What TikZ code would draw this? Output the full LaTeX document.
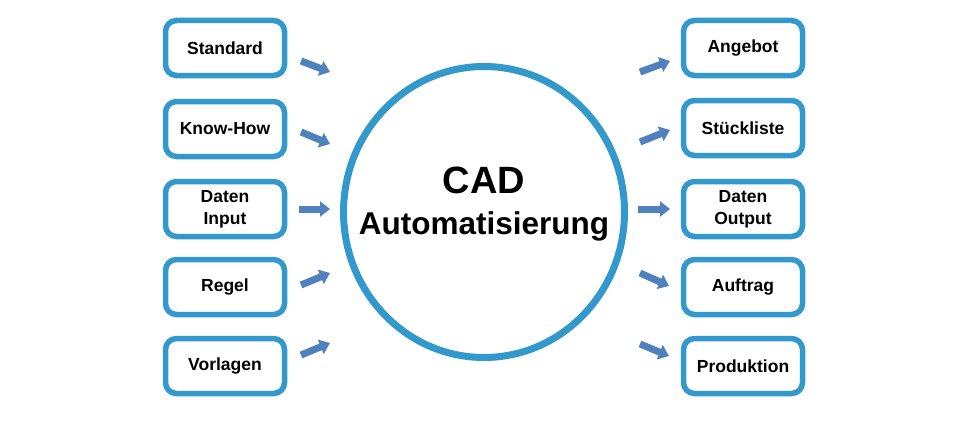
\documentclass[tikz,border=0pt]{standalone}
\usepackage{fontspec}
\setmainfont{Liberation Sans}
\usetikzlibrary{arrows.meta,shadows,shapes.geometric}
\definecolor{boxblue}{HTML}{3399CC}
\definecolor{arrblue}{HTML}{4F81BD}
\tikzset{
  boxnode/.style={draw=boxblue, line width=5.5pt, rounded corners=11pt, fill=white,
    minimum width=119pt, minimum height=55pt, align=center,
    font=\fontsize{17.5}{22}\selectfont\bfseries,
    drop shadow={opacity=0.25, shadow xshift=2pt, shadow yshift=-2pt}},
  blockarrow/.style={draw=arrblue, line width=7pt, -{Triangle[length=10pt,width=15pt]}},
}
\begin{document}
\begin{tikzpicture}[x=1pt,y=-1pt]
\useasboundingbox (0,0) rectangle (960,420);
% central circle
\node (c) [ellipse, draw=boxblue, line width=7pt, fill=white, minimum width=281pt, minimum height=291pt,
  drop shadow={opacity=0.2, shadow xshift=3pt, shadow yshift=-2pt}] at (484,212) {};
\node (t1) at (484,180) {\fontsize{38}{42}\selectfont\bfseries CAD};
\node (t2) at (484,226) {\fontsize{31.5}{36}\selectfont\bfseries Automatisierung};
% left boxes
\node (l1) [boxnode] at (225,48) {Standard};
\node (l2) [boxnode] at (225,129) {Know-How};
\node (l3) [boxnode] at (225,209) {Daten\\Input};
\node (l4) [boxnode] at (225,287) {Regel};
\node (l5) [boxnode] at (225,366) {Vorlagen};
% right boxes
\node (r1) [boxnode] at (743,48) {Angebot};
\node (r2) [boxnode] at (743,128) {Stückliste};
\node (r3) [boxnode] at (743,209) {Daten\\Output};
\node (r4) [boxnode] at (743,287) {Auftrag};
\node (r5) [boxnode] at (743,366) {Produktion};
% arrow end points
\coordinate (la1) at (301,61); \coordinate (lb1) at (330,72);
\coordinate (la2) at (301,132); \coordinate (lb2) at (330,144);
\coordinate (la3) at (299,209); \coordinate (lb3) at (330,209);
\coordinate (la4) at (301,285); \coordinate (lb4) at (330,273);
\coordinate (la5) at (301,355); \coordinate (lb5) at (330,343);
\coordinate (ra1) at (640,72); \coordinate (rb1) at (670,61);
\coordinate (ra2) at (640,142); \coordinate (rb2) at (670,130);
\coordinate (ra3) at (638,209); \coordinate (rb3) at (670,209);
\coordinate (ra4) at (640,273); \coordinate (rb4) at (669,286);
\coordinate (ra5) at (640,344); \coordinate (rb5) at (669,356);
\foreach \i in {1,...,5} {
  \draw[blockarrow] (la\i) -- (lb\i);
  \draw[blockarrow] (ra\i) -- (rb\i);
}
\end{tikzpicture}
\end{document}
